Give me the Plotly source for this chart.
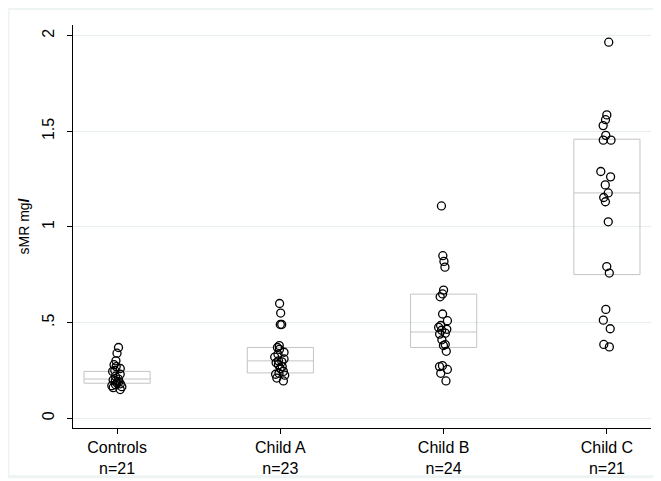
import plotly.graph_objects as go

categories = ["Controls", "Child A", "Child B", "Child C"]
tick_labels = ["Controls<br>n=21", "Child A<br>n=23", "Child B<br>n=24", "Child C<br>n=21"]

controls = [0.37, 0.34, 0.30, 0.28, 0.27, 0.26, 0.25, 0.245, 0.23, 0.22, 0.205,
            0.20, 0.195, 0.19, 0.185, 0.18, 0.175, 0.17, 0.165, 0.16, 0.15]
child_a = [0.60, 0.55, 0.49, 0.49, 0.38, 0.37, 0.36, 0.345, 0.335, 0.32, 0.31, 0.30,
           0.295, 0.29, 0.28, 0.27, 0.26, 0.245, 0.235, 0.23, 0.225, 0.21, 0.195]
child_b = [1.11, 0.85, 0.82, 0.79, 0.67, 0.65, 0.635, 0.545, 0.51, 0.485, 0.475, 0.465,
           0.46, 0.445, 0.44, 0.41, 0.385, 0.38, 0.35, 0.275, 0.27, 0.255, 0.235, 0.195]
child_c = [1.966, 1.586, 1.561, 1.530, 1.479, 1.454, 1.454, 1.29, 1.262, 1.22, 1.178,
           1.154, 1.132, 1.027, 0.793, 0.759, 0.569, 0.513, 0.468, 0.386, 0.373]

box_q1 = [0.183, 0.237, 0.37, 0.751]
box_median = [0.205, 0.30, 0.451, 1.178]
box_q3 = [0.245, 0.37, 0.649, 1.459]

y_tickvals = [0, 0.5, 1, 1.5, 2]
y_ticktext = ["0", ".5", "1", "1.5", "2"]

series = [controls, child_a, child_b, child_c]

FONT = "Liberation Sans, Arial, sans-serif"
fig = go.Figure()

# boxes (quartiles, no whiskers)
fig.add_trace(go.Box(
    x=categories, q1=box_q1, median=box_median, q3=box_q3,
    lowerfence=box_q1, upperfence=box_q3,
    fillcolor="rgba(0,0,0,0)", line=dict(color="#c4c4c4", width=1),
    width=0.405, whiskerwidth=0, boxpoints=False, showlegend=False, hoverinfo="skip",
))

# jittered points
for cat, vals in zip(categories, series):
    fig.add_trace(go.Box(
        x=[cat] * len(vals), y=vals,
        boxpoints="all", jitter=0.19, pointpos=0, width=0.405,
        fillcolor="rgba(0,0,0,0)", line=dict(color="rgba(0,0,0,0)", width=0),
        marker=dict(symbol="circle-open", size=8, color="black", line=dict(width=1.3)),
        showlegend=False,
    ))

fig.update_layout(
    width=661, height=481,
    margin=dict(l=65, r=18, t=17, b=50),
    paper_bgcolor="white", plot_bgcolor="white",
    boxmode="overlay",
    font=dict(family=FONT, size=16, color="black"),
    xaxis=dict(
        type="category", categoryorder="array", categoryarray=categories,
        tickvals=categories, ticktext=tick_labels,
        range=[-0.27, 3.27],
        showline=True, linecolor="black", linewidth=1,
        ticks="outside", ticklen=5, tickcolor="black",
        showgrid=False, zeroline=False,
    ),
    yaxis=dict(
        range=[-0.051, 2.056],
        tickvals=y_tickvals, ticktext=y_ticktext, tickangle=-90,
        ticklabelstandoff=7,
        showline=True, linecolor="black", linewidth=1,
        ticks="outside", ticklen=5, tickcolor="black",
        showgrid=True, gridcolor="#e6eef0", gridwidth=1, zeroline=False,
        title=dict(text="sMR mg<b><i>l</i></b>", font=dict(size=14), standoff=6),
    ),
    shapes=[dict(type="rect", xref="paper", yref="paper",
                 x0=-0.1125, x1=1.031, y0=-0.1208, y1=1.041,
                 line=dict(color="#eef3f4", width=3), fillcolor="rgba(0,0,0,0)",
                 layer="below")],
)

fig.write_html("out.html")
